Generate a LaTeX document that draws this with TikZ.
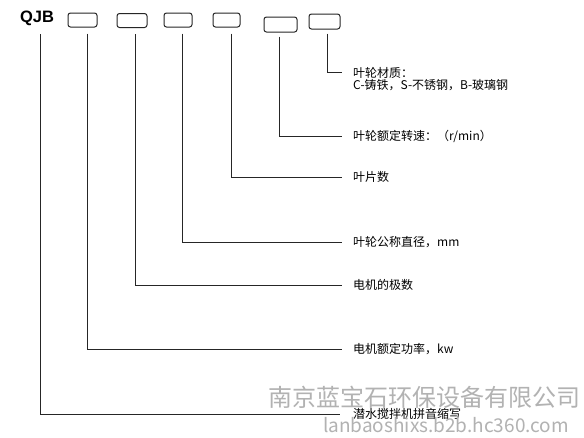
\documentclass[tikz,border=0pt]{standalone}
\usepackage{fontspec}
\setmainfont{Noto Sans CJK SC}
\newfontfamily\qjbfont{Liberation Sans}[BoldFont={Liberation Sans Bold}]
\begin{document}
\begin{tikzpicture}[x=1pt,y=-1pt,
  conn/.style={draw=black!85, line width=1pt},
  codebox/.style={draw=black!85, line width=1pt, rounded corners=2.5pt, minimum width=29pt, minimum height=14pt, inner sep=0pt},
  lbl/.style={anchor=west, inner xsep=11pt, inner ysep=0pt, font=\fontsize{12}{14}\selectfont},
  wm/.style={text=black!30, inner sep=0pt}]
\useasboundingbox (0,0) rectangle (584,437);
\fill[white] (0,0) rectangle (584,437);
\node[font=\qjbfont\bfseries\fontsize{16.5}{17}\selectfont, inner sep=0pt] (qjb) at (37,18.5) {QJB};
\node[codebox] (b1) at (82.5,20) {};
\node[codebox, minimum width=30pt] (b2) at (132,20.5) {};
\node[codebox, minimum width=28pt] (b3) at (178,20) {};
\node[codebox, minimum width=27pt] (b4) at (226.5,20) {};
\node[codebox, minimum width=33pt, minimum height=15pt] (b5) at (280.5,24.5) {};
\node[codebox, minimum width=31pt, minimum height=15pt] (b6) at (324.5,21.5) {};
% labels
\node[lbl] (l6a) at (342,72.5) {叶轮材质：};
\node[lbl] (l6b) at (342,85) {C-铸铁，S-不锈钢，B-玻璃钢};
\node[lbl] (l5) at (342,136) {叶轮额定转速：（r/min）};
\node[lbl] (l4) at (342,177) {叶片数};
\node[lbl] (l3) at (342,242) {叶轮公称直径，mm};
\node[lbl] (l2) at (342,285) {电机的极数};
\node[lbl] (l1) at (342,349) {电机额定功率，kw};
\node[lbl, inner xsep=13pt] (l0) at (340,414) {潜水搅拌机拼音缩写};
% connectors
\draw[conn] ([xshift=3pt,yshift=-8pt]qjb.south) |- (l0.west);
\draw[conn] ([xshift=4.5pt,yshift=-6pt]b1.south) |- (l1.west);
\draw[conn] ([xshift=3pt,yshift=-6pt]b2.south) |- (l2.west);
\draw[conn] ([xshift=4pt,yshift=-6pt]b3.south) |- (l3.west);
\draw[conn] ([xshift=4.5pt,yshift=-6pt]b4.south) |- (l4.west);
\draw[conn] ([xshift=-1.5pt,yshift=-4pt]b5.south) |- (l5.west);
\draw[conn] ([xshift=2.5pt,yshift=-4pt]b6.south) |- (l6a.west);
% watermark
\node[wm, font=\fontsize{24}{24}\selectfont] (wm1) at (424,397) {南京蓝宝石环保设备有限公司};
\node[wm, font=\fontsize{19}{19}\selectfont] (wm2) at (446,425) {lanbaoshixs.b2b.hc360.com};
\end{tikzpicture}
\end{document}
